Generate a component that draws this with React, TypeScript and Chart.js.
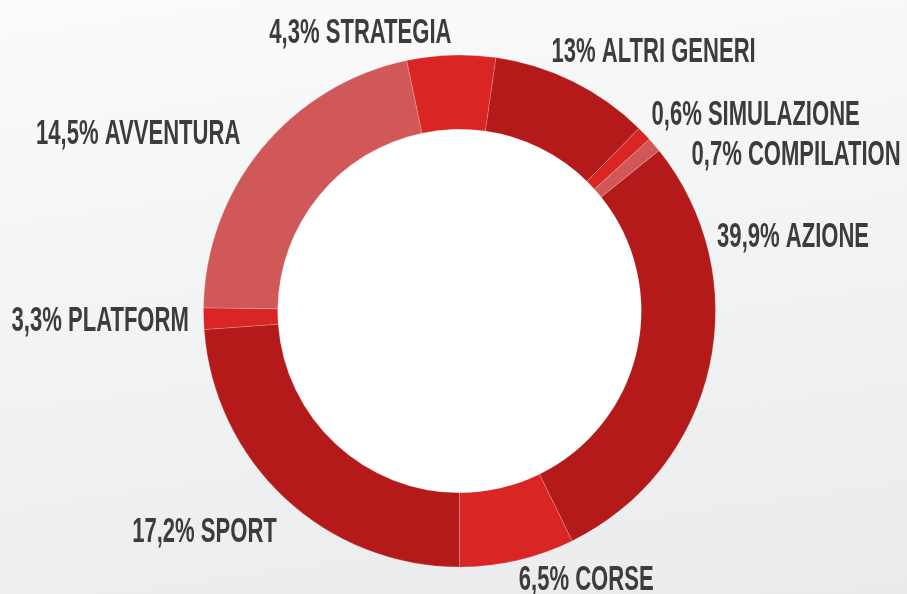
import React, { useEffect, useRef } from "react";
import { Chart, registerables } from "chart.js";

Chart.register(...registerables);

// Genres in drawing order (clockwise, starting with AZIONE)
const genres = [
  "AZIONE",
  "CORSE",
  "SPORT",
  "PLATFORM",
  "AVVENTURA",
  "STRATEGIA",
  "ALTRI GENERI",
  "SIMULAZIONE",
  "COMPILATION",
];

// Published percentages shown in the labels
const percentLabels = ["39,9%", "6,5%", "17,2%", "3,3%", "14,5%", "4,3%", "13%", "0,6%", "0,7%"];

// Arc sizes as drawn in the picture (degrees of the ring)
const arcDegrees = [102.7, 26.1, 85.85, 4.85, 77.4, 20.1, 36.3, 3.4, 3.3];

const DARK = "#b41a1a";
const BRIGHT = "#da2525";
const LIGHT = "#d15858";
const sliceColors = [DARK, BRIGHT, DARK, BRIGHT, LIGHT, BRIGHT, DARK, BRIGHT, LIGHT];

// Label anchors relative to the ring centre (px): [dx, dy(baseline), align]
const labelLayout: [number, number, CanvasTextAlign][] = [
  [257.6, -64.3, "left"],
  [59.3, 279, "left"],
  [-182.7, 231, "right"],
  [-270.7, 19.5, "right"],
  [-219.2, -167, "right"],
  [-8, -267.7, "right"],
  [92, -249.5, "left"],
  [192, -186, "left"],
  [232, -146, "left"],
];

const START_ANGLE = 51.2;

const holePlugin = {
  id: "hole",
  beforeDatasetsDraw(chart: any) {
    const arc = chart.getDatasetMeta(0).data[0];
    if (!arc) return;
    const { ctx } = chart;
    ctx.save();
    ctx.beginPath();
    ctx.arc(arc.x, arc.y, arc.innerRadius + 0.5, 0, Math.PI * 2);
    ctx.fillStyle = "#ffffff";
    ctx.fill();
    ctx.restore();
  },
};

const labelPlugin = {
  id: "outerLabels",
  afterDatasetsDraw(chart: any) {
    const arc = chart.getDatasetMeta(0).data[0];
    if (!arc) return;
    const { ctx } = chart;
    ctx.save();
    ctx.fillStyle = "#3c3c3e";
    ctx.font = "bold 35px 'Liberation Sans', Arial, sans-serif";
    ctx.textBaseline = "alphabetic";
    genres.forEach((g, i) => {
      const [dx, dy, align] = labelLayout[i];
      ctx.save();
      ctx.translate(arc.x + dx, arc.y + dy);
      ctx.scale(0.63, 1);
      ctx.textAlign = align;
      ctx.fillText(`${percentLabels[i]} ${g}`, 0, 0);
      ctx.restore();
    });
    ctx.restore();
  },
};

export default function App() {
  const ref = useRef<HTMLCanvasElement>(null);
  useEffect(() => {
    if (!ref.current) return;
    const chart = new Chart(ref.current, {
      type: "doughnut",
      data: {
        labels: genres,
        datasets: [
          {
            data: arcDegrees,
            backgroundColor: sliceColors,
            borderColor: "rgba(255,255,255,0.18)",
            borderWidth: 1,
            hoverOffset: 0,
          },
        ],
      },
      options: {
        responsive: false,
        animation: false,
        rotation: START_ANGLE,
        cutout: "71%",
        layout: { padding: { left: 203, right: 191, top: 54.5, bottom: 26.5 } },
        plugins: {
          legend: { display: false },
          tooltip: { enabled: false },
        },
        events: [],
      },
      plugins: [holePlugin, labelPlugin],
    });
    return () => chart.destroy();
  }, []);
  return (
    <div
      style={{
        position: "fixed",
        left: 0,
        top: 0,
        width: 907,
        height: 594,
        overflow: "hidden",
        background: "linear-gradient(172deg, #fbfbfb 0%, #f1f2f3 55%, #eaebed 100%)",
      }}
    >
      <canvas ref={ref} width={907} height={594} style={{ display: "block" }} />
    </div>
  );
}
